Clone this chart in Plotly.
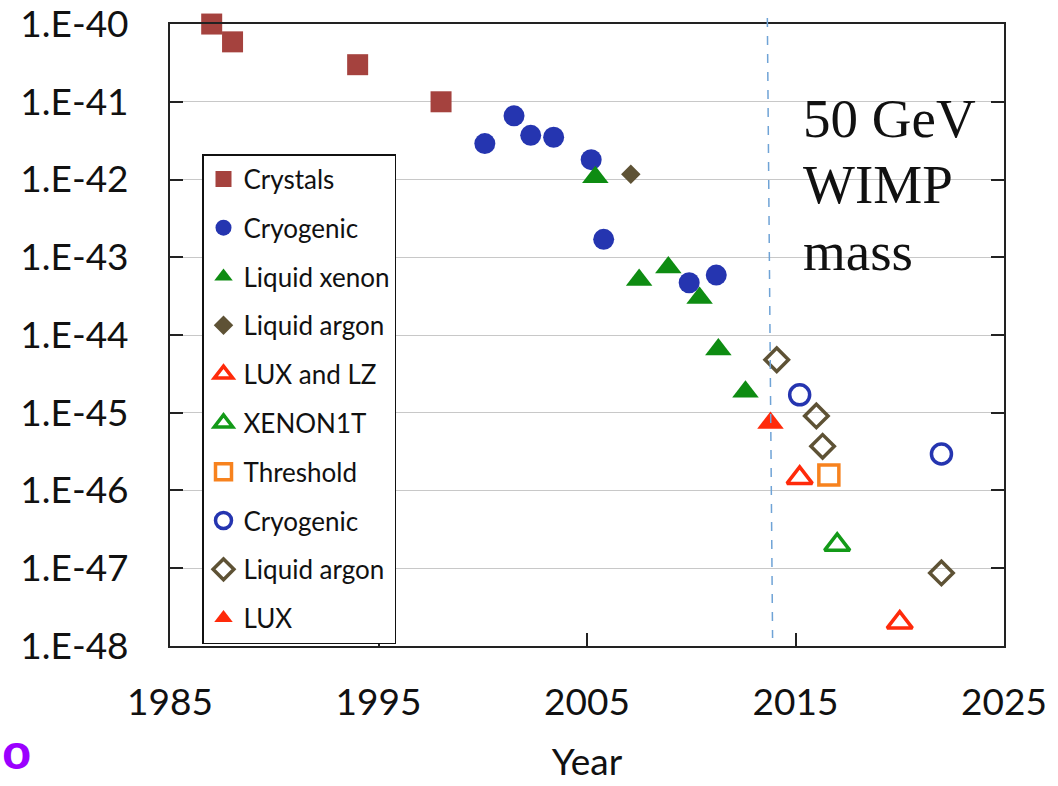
import plotly.graph_objects as go

# ---- data: year of result vs. WIMP-nucleon cross-section limit (cm^2) ----
crystals_year = [1987.0, 1988.0, 1994.0, 1998.0]
crystals_xsec = [1.0e-40, 5.9e-41, 3.0e-41, 1.0e-41]

cryo_year = [2000.1, 2001.5, 2002.3, 2003.4, 2005.2, 2005.8, 2009.9, 2011.2]
cryo_xsec = [2.9e-42, 6.6e-42, 3.7e-42, 3.5e-42, 1.8e-42, 1.7e-43, 4.7e-44, 5.9e-44]

lxe_year = [2005.4, 2007.5, 2008.9, 2010.4, 2011.3, 2012.6]
lxe_xsec = [1.07e-42, 5.1e-44, 7.4e-44, 3.0e-44, 6.5e-45, 1.86e-45]

lar_year = [2007.1]
lar_xsec = [1.17e-42]

luxlz_year = [2015.2, 2020.0]
luxlz_xsec = [1.45e-46, 2.0e-48]

xenon1t_year = [2017.0]
xenon1t_xsec = [2.0e-47]

threshold_year = [2016.6]
threshold_xsec = [1.58e-46]

cryo_open_year = [2015.2, 2022.0]
cryo_open_xsec = [1.7e-45, 2.95e-46]

lar_open_year = [2014.1, 2016.0, 2016.3, 2022.0]
lar_open_xsec = [4.8e-45, 9.1e-46, 3.7e-46, 8.7e-48]

lux_year = [2013.8]
lux_xsec = [7.4e-46]

x_ticks = [1985, 1995, 2005, 2015, 2025]
y_ticks = [1e-40, 1e-41, 1e-42, 1e-43, 1e-44, 1e-45, 1e-46, 1e-47, 1e-48]
y_tick_text = ["1.E-40", "1.E-41", "1.E-42", "1.E-43", "1.E-44",
               "1.E-45", "1.E-46", "1.E-47", "1.E-48"]

LABEL_FONT = "Lato, 'Open Sans', sans-serif"

series = [
    ("Crystals", crystals_year, crystals_xsec,
     dict(symbol="square", size=21, color="#A5423E")),
    ("Cryogenic", cryo_year, cryo_xsec,
     dict(symbol="circle", size=21, color="#2535B0")),
    ("Liquid xenon", lxe_year, lxe_xsec,
     dict(symbol="triangle-up", size=23, color="#0E8C12")),
    ("Liquid argon", lar_year, lar_xsec,
     dict(symbol="diamond", size=15, color="#5E5235")),
    ("LUX and LZ", luxlz_year, luxlz_xsec,
     dict(symbol="triangle-up-open", size=22, color="#FF2A0A",
          line=dict(width=3.5, color="#FF2A0A"))),
    ("XENON1T", xenon1t_year, xenon1t_xsec,
     dict(symbol="triangle-up-open", size=22, color="#139A18",
          line=dict(width=3.5, color="#139A18"))),
    ("Threshold", threshold_year, threshold_xsec,
     dict(symbol="square-open", size=20, color="#F7821E",
          line=dict(width=3.5, color="#F7821E"))),
    ("Cryogenic", cryo_open_year, cryo_open_xsec,
     dict(symbol="circle-open", size=20, color="#2535B0",
          line=dict(width=3.5, color="#2535B0"))),
    ("Liquid argon", lar_open_year, lar_open_xsec,
     dict(symbol="diamond-open", size=18, color="#5E5235",
          line=dict(width=3.5, color="#5E5235"))),
    ("LUX", lux_year, lux_xsec,
     dict(symbol="triangle-up", size=23, color="#FF2A0A")),
]

fig = go.Figure()
for i, (name, xs, ys, marker) in enumerate(series):
    fig.add_trace(go.Scatter(
        x=xs, y=ys, mode="markers", name=name, marker=marker,
        legendgroup=f"g{i}", cliponaxis=False,
    ))

W, H = 1058, 786
ML, MR, MT, MB = 170, 54, 24, 140
PW, PH = W - ML - MR, H - MT - MB


def px(x):
    return (x - ML) / PW


def py(y):
    return (H - MB - y) / PH


# white panel behind the label text
fig.add_shape(type="rect", xref="paper", yref="paper",
              x0=px(787), x1=px(997), y0=py(292), y1=py(86),
              fillcolor="white", line=dict(width=0), layer="between")

# dashed marker line for the present day
fig.add_shape(type="line", xref="x", yref="paper",
              x0=2013.65, x1=2013.9, y0=py(18), y1=py(638),
              line=dict(color="#6FA3D6", width=1.5, dash="dash"))

for txt, yc in [("50 GeV", 118), ("WIMP", 185), ("mass", 251)]:
    fig.add_annotation(text=txt, xref="paper", yref="paper",
                       x=px(801), y=py(yc), xanchor="left", yanchor="middle",
                       showarrow=False,
                       font=dict(family="'Liberation Serif', 'DejaVu Serif', serif",
                                 size=55, color="#111111"))

fig.add_annotation(text="<b>o</b>", xref="paper", yref="paper",
                   x=px(0), y=py(752), xanchor="left", yanchor="middle",
                   showarrow=False,
                   font=dict(family="'Liberation Sans', Arial, sans-serif",
                             size=48, color="#9B00FF"))

fig.update_layout(
    width=W, height=H,
    margin=dict(l=ML, r=MR, t=MT, b=MB, pad=0),
    paper_bgcolor="white", plot_bgcolor="white",
    showlegend=True,
    legend=dict(
        x=px(202), y=py(154), xanchor="left", yanchor="top",
        bgcolor="white", bordercolor="#111111", borderwidth=1.5,
        font=dict(family=LABEL_FONT, size=26, color="#111111"),
        tracegroupgap=12, traceorder="grouped",
    ),
    xaxis=dict(
        range=[1985, 2025], tickvals=x_ticks, automargin=False,
        ticks="inside", ticklen=13, tickwidth=1.5, tickcolor="#222222",
        showline=True, linecolor="#222222", linewidth=2, mirror=True,
        showgrid=False, zeroline=False,
        tickfont=dict(family=LABEL_FONT, size=37, color="#111111"),
        ticklabelstandoff=23, ticklabeloverflow="allow",
        title=dict(text="Year", standoff=27,
                   font=dict(family=LABEL_FONT, size=37, color="#111111")),
    ),
    yaxis=dict(
        type="log", range=[-48.0005, -39.9995], tickvals=y_ticks,
        ticktext=y_tick_text, automargin=False,
        ticks="inside", ticklen=13, tickwidth=1.5, tickcolor="#222222",
        showline=True, linecolor="#222222", linewidth=2, mirror="ticks",
        showgrid=True, gridcolor="#C8C8C8", gridwidth=1, zeroline=False,
        tickfont=dict(family=LABEL_FONT, size=37, color="#111111"),
        ticklabelstandoff=32, ticklabeloverflow="allow",
    ),
)

fig.write_html("out.html")
